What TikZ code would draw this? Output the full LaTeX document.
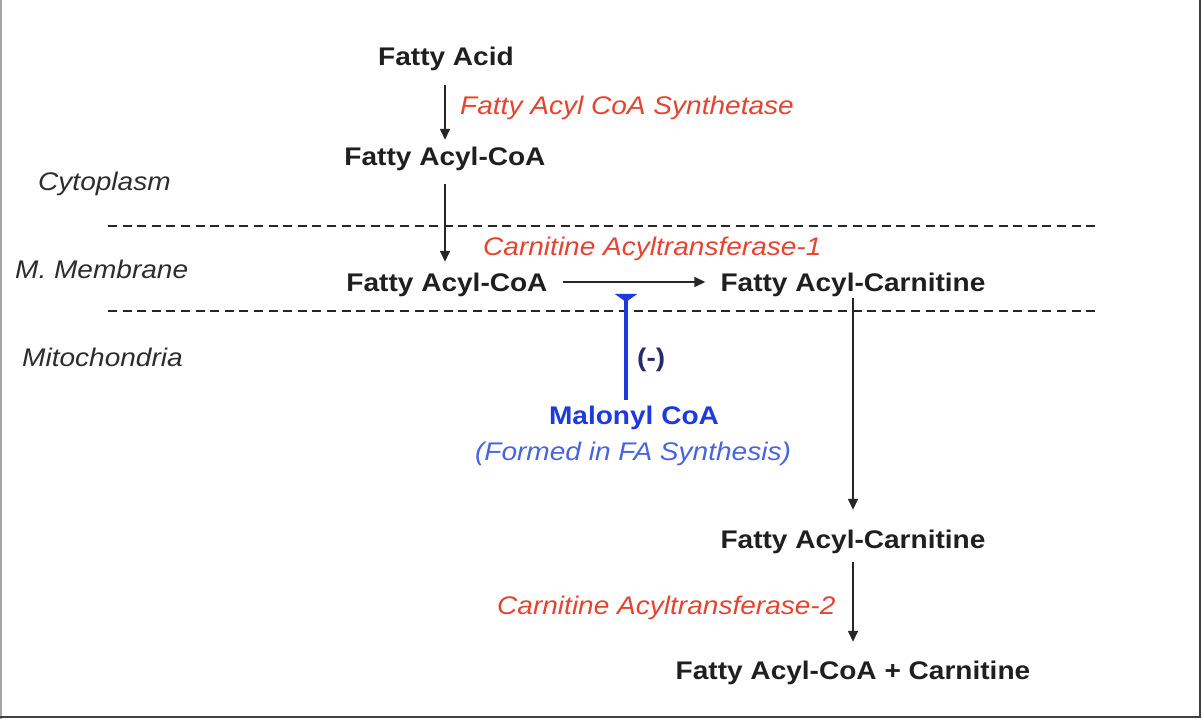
\documentclass[tikz,border=0pt]{standalone}
\usepackage{fontspec}
\setmainfont{Liberation Sans}[FakeStretch=1.1]
\usetikzlibrary{arrows.meta}
\definecolor{redlab}{RGB}{228,68,48}
\definecolor{blueb}{RGB}{30,58,222}
\definecolor{bluei}{RGB}{72,100,222}
\definecolor{navy}{RGB}{40,42,110}
\definecolor{reg}{RGB}{45,45,45}
\tikzset{
  chem/.style={font=\fontsize{25.5}{30}\selectfont\bfseries, text=black!88, inner sep=0pt, text height=18pt, text depth=5pt, anchor=base},
  enz/.style={font=\fontsize{25.5}{30}\selectfont\itshape, text=redlab, inner sep=0pt, anchor=base west},
  region/.style={font=\fontsize{25.5}{30}\selectfont\itshape, text=reg, inner sep=0pt, anchor=base west},
  arr/.style={draw=black!85, line width=1.5pt, -{Triangle[length=11pt,width=10pt]}},
  membrane/.style={draw=black!85, line width=2.6pt, dash pattern=on 9pt off 5.6pt},
}
\begin{document}
\begin{tikzpicture}[x=1pt,y=-1pt]
\useasboundingbox (0,0) rectangle (1202,719);
\fill[white] (0,0) rectangle (1202,719);
% frame
\draw[gray!70, line width=2pt] (1,0) -- (1,719);
\draw[black!75, line width=2.5pt] (1200,0) -- (1200,717) -- (0,717);
% membranes
\coordinate (m1a) at (108,226); \coordinate (m1b) at (1100,226);
\coordinate (m2a) at (108,311); \coordinate (m2b) at (1100,311);
\draw[membrane] (m1a) -- (m1b);
\draw[membrane] (m2a) -- (m2b);
% region labels
\node[region] (cyt) at (38,191) {Cytoplasm};
\node[region] (mem) at (15,279) {M. Membrane};
\node[region] (mit) at (22,366) {Mitochondria};
% chemicals
\node[chem] (fa)    at (446,66)  {Fatty Acid};
\node[chem] (fac1)  at (445,166) {Fatty Acyl-CoA};
\node[chem] (fac2)  at (447,291) {Fatty Acyl-CoA};
\node[chem] (fcar1) at (853,291) {Fatty Acyl-Carnitine};
\node[chem] (fcar2) at (853,548) {Fatty Acyl-Carnitine};
\node[chem] (fin)   at (853,679) {Fatty Acyl-CoA + Carnitine};
% enzymes
\node[enz] (e1) at (460,115) {Fatty Acyl CoA Synthetase};
\node[enz] (e2) at (483,256) {Carnitine Acyltransferase-1};
\node[enz] (e3) at (497,614) {Carnitine Acyltransferase-2};
% malonyl
\node[chem, text=blueb] (mal) at (634,424) {Malonyl CoA};
\node[font=\fontsize{25.5}{30}\selectfont\itshape, text=bluei, inner sep=0pt, anchor=base] (form) at (633,460) {(Formed in FA Synthesis)};
\node[font=\fontsize{25.5}{30}\selectfont\bfseries, text=navy, inner sep=0pt, anchor=base west] (neg) at (637,366) {(-)};
\coordinate (inh) at (626,294);
% arrows
\draw[arr, shorten <=14pt, shorten >=8pt] (fa.south -| fac1.south) -- (fac1.north);
\draw[arr, shorten <=13pt, shorten >=11pt] (fac1.south) -- (fac2.north -| fac1.south);
\draw[arr, shorten <=15pt, shorten >=15pt] ([yshift=2.5pt]fac2.east) -- ([yshift=2.5pt]fcar1.west);
\draw[arr, shorten <=2pt, shorten >=20pt] (fcar1.south) -- (fcar2.north);
\draw[arr, shorten <=9pt, shorten >=19pt] (fcar2.south) -- (fin.north);
\draw[blueb, line width=4pt, shorten <=6pt, -{Triangle[reversed,width=22pt,length=8pt]}] (mal.north -| inh) -- (inh);
\end{tikzpicture}
\end{document}
